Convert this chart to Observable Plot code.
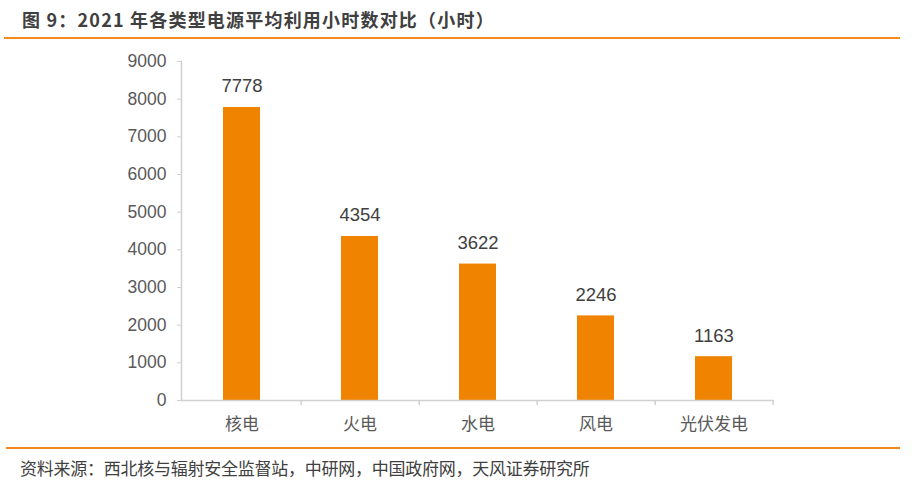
<!DOCTYPE html>
<html>
<head>
<meta charset="utf-8">
<script src="https://cdn.jsdelivr.net/npm/d3@7"></script>
<script src="https://cdn.jsdelivr.net/npm/@observablehq/plot@0.6"></script>
<style>
  html, body { margin: 0; padding: 0; background: #fff; width: 917px; height: 488px; overflow: hidden; }
  #title { position: absolute; left: 4px; top: 0; width: 896px; height: 37px; border-bottom: 2px solid #F5891F; }
  #title span { position: absolute; left: 18px; top: 6px; font-family: "Noto Sans CJK SC", sans-serif; font-weight: bold; font-size: 18px; letter-spacing: 1.2px; color: #404040; white-space: nowrap; }
  #chart { position: absolute; left: 0; top: 39px; }
  #caption { position: absolute; left: 6px; top: 447px; width: 894px; border-top: 2px solid #F5891F; }
  #caption span { position: absolute; left: 14px; top: 6px; font-family: "Noto Sans CJK SC", sans-serif; font-size: 17px; letter-spacing: -0.25px; color: #404040; white-space: nowrap; }
</style>
</head>
<body>
<div id="title"><span>图 9：2021 年各类型电源平均利用小时数对比（小时）</span></div>
<div id="chart"></div>
<div id="caption"><span>资料来源：西北核与辐射安全监督站，中研网，中国政府网，天风证券研究所</span></div>
<script>
const categories = ["核电", "火电", "水电", "风电", "光伏发电"];
const hours = [7778, 4354, 3622, 2246, 1163];
const yTicks = [0, 1000, 2000, 3000, 4000, 5000, 6000, 7000, 8000, 9000];

const data = categories.map((c, i) => ({category: c, value: hours[i]}));

const W = 917, H = 408, mL = 181, mR = 144;
const step = (W - mL - mR) / categories.length;

const plot = Plot.plot({
  width: W,
  height: H,
  marginLeft: mL,
  marginRight: mR,
  marginTop: 22,
  marginBottom: 47,
  style: {fontFamily: "'Liberation Sans', 'Noto Sans CJK SC', sans-serif", background: "#fff"},
  x: {domain: categories, paddingInner: 0.69, paddingOuter: 0.345, label: null},
  y: {domain: [0, 9000], label: null},
  marks: [
    Plot.frame({anchor: "left", stroke: "#d0d0d0", strokeWidth: 1.5}),
    Plot.axisY({ticks: yTicks, tickSize: 4, tickPadding: 11, fontSize: 17.5, color: "#595959", stroke: "#d0d0d0", tickFormat: d => String(d)}),
    Plot.axisX({tickSize: 0, tickPadding: 17, fontSize: 17, color: "#595959", fontFamily: "'Noto Sans CJK SC', sans-serif"}),
    Plot.barY(data, {x: "category", y: "value", fill: "#F08300"}),
    Plot.ruleY([0], {stroke: "#d0d0d0", strokeWidth: 1.5}),
    Plot.ruleX(categories, {x: d => d, y1: 0, y2: 0, insetBottom: -5, dx: step / 2, stroke: "#d0d0d0", strokeWidth: 1.5}),
    Plot.text(data, {x: "category", y: "value", text: d => String(d.value), dy: -21, fontSize: 18.5, fill: "#404040", lineAnchor: "middle"})
  ]
});
document.getElementById("chart").appendChild(plot);
</script>
</body>
</html>
